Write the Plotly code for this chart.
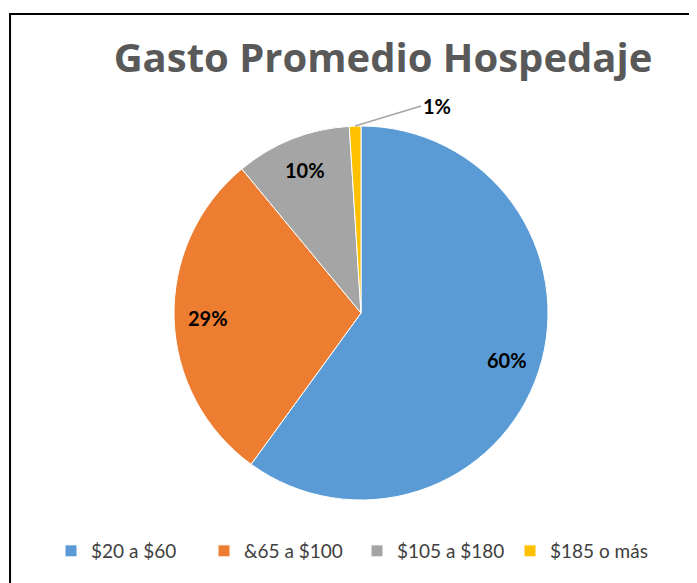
import math
import plotly.graph_objects as go

categories = ["$20 a $60", "&65 a $100", "$105 a $180", "$185 o más"]
values = [60, 29, 10, 1]
colors = ["#5B9BD5", "#ED7D31", "#A5A5A5", "#FFC000"]
title_text = "Gasto Promedio Hospedaje"

W, H = 697, 583
OFF = 8  # page body margin
cx_px, cy_px, R_px = 361 - OFF, 313 - OFF, 187
font = "Lato, Open Sans, sans-serif"


def to_paper(px, py):
    return px / W, 1 - py / H


total = sum(values)
texts = [f"<b>{round(v / total * 100)}%</b>" for v in values]

fig = go.Figure(go.Pie(
    labels=categories,
    values=values,
    marker=dict(colors=colors, line=dict(color="white", width=1)),
    sort=False,
    direction="clockwise",
    rotation=0,
    textinfo="none",
    hoverinfo="label+percent",
    domain=dict(x=[(cx_px - R_px) / W, (cx_px + R_px) / W],
                y=[1 - (cy_px + R_px) / H, 1 - (cy_px - R_px) / H]),
))

cum = 0
for v, t in zip(values, texts):
    frac = v / total
    mid = cum + frac / 2
    ang = math.radians(90 - 360 * mid)
    if frac >= 0.05:
        r = 0.82 * R_px
        x, y = to_paper(cx_px + r * math.cos(ang), cy_px - r * math.sin(ang))
        fig.add_annotation(x=x, y=y, xref="paper", yref="paper", text=t,
                           showarrow=False, xanchor="center", yanchor="middle",
                           font=dict(family=font, size=20, color="black"))
    else:
        x, y = to_paper(cx_px + R_px * math.cos(ang), cy_px - R_px * math.sin(ang))
        fig.add_annotation(x=x, y=y, xref="paper", yref="paper", text=t,
                           showarrow=True, arrowhead=0, arrowwidth=1.5,
                           arrowcolor="#A6A6A6", ax=66, ay=-20, xanchor="left",
                           yanchor="middle",
                           font=dict(family=font, size=20, color="black"))
    cum += frac

fig.add_shape(type="rect", xref="paper", yref="paper",
              x0=(9 - OFF) / W + 0.0015, x1=1.03, y0=-0.03, y1=1 - (14 - OFF) / H,
              line=dict(color="black", width=2))

fig.update_layout(
    width=W, height=H,
    margin=dict(l=0, r=0, t=0, b=0),
    paper_bgcolor="white",
    plot_bgcolor="white",
    title=dict(text=f"<b>{title_text}</b>", x=(383 - OFF) / W, y=1 - (58 - OFF) / H,
               xanchor="center", yanchor="middle",
               font=dict(family="Open Sans, Lato, sans-serif", size=40, color="#595959")),
    showlegend=True,
    legend=dict(orientation="h", x=(51 - OFF) / W, xanchor="left",
                y=1 - (551 - OFF) / H, yanchor="middle",
                font=dict(family=font, size=19, color="#404040"),
                itemwidth=30, entrywidth=108, traceorder="normal"),
)

fig.write_html("out.html")
